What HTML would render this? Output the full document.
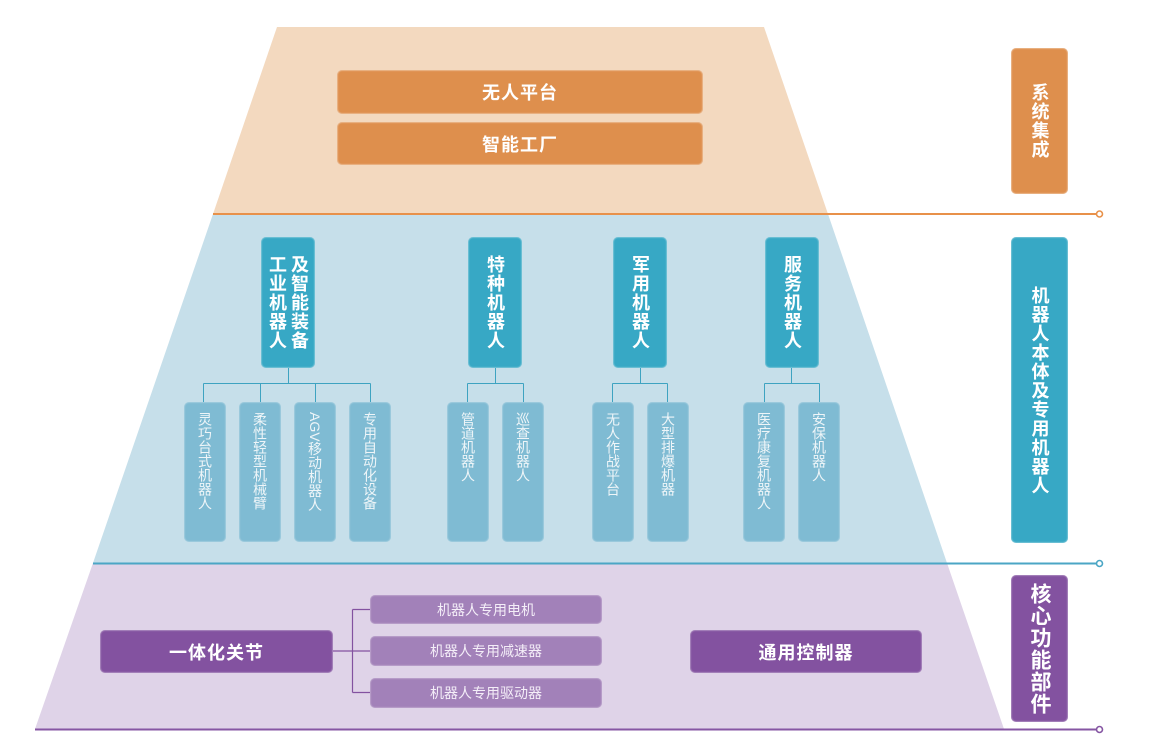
<!DOCTYPE html>
<html>
<head>
<meta charset="utf-8">
<style>
  html,body{margin:0;padding:0;background:#fff;}
  body{width:1156px;height:735px;position:relative;overflow:hidden;
    font-family:"Liberation Sans","Noto Sans CJK SC",sans-serif;}
  .b{position:absolute;border-radius:5px;box-sizing:border-box;}
  .or{background:#de8f4d;box-shadow:0 0 1px 1px rgba(255,255,255,0.35) inset;}
  .bl{background:#37a8c5;box-shadow:0 0 1px 1px rgba(255,255,255,0.3) inset;}
  .sb{background:#7fbbd3;box-shadow:0 0 1px 1px rgba(255,255,255,0.25) inset;}
  .pu{background:#8352a0;box-shadow:0 0 1px 1px rgba(255,255,255,0.3) inset;}
  .ps{background:#a281b9;box-shadow:0 0 1px 1px rgba(255,255,255,0.25) inset;}
  .h{display:flex;align-items:center;justify-content:center;color:#fff;}
  .hb{font-size:18px;font-weight:bold;letter-spacing:1px;}
  .hs{font-size:14px;color:#f4eef8;}
  .v{display:flex;align-items:center;justify-content:center;}
  .v span{writing-mode:vertical-rl;line-height:1;color:#fff;font-weight:bold;font-size:18px;letter-spacing:1px;}
  .s{display:flex;justify-content:center;}
  .s span{writing-mode:vertical-rl;line-height:1;color:#eef5f8;font-size:14px;margin-top:10px;}
</style>
</head>
<body>
<svg width="1156" height="735" style="position:absolute;left:0;top:0">
  <polygon points="277,27 764,27 828,214 213,214" fill="#f3d9bf"/>
  <polygon points="213,214 828,214 947,563 93,563" fill="#c6dfea"/>
  <polygon points="93,563 947,563 1004,729 35,729" fill="#dfd3e8"/>
  <line x1="213" y1="214" x2="1096" y2="214" stroke="#e8914a" stroke-width="2"/>
  <circle cx="1099.5" cy="214" r="3" fill="#fff" stroke="#e8914a" stroke-width="1.6"/>
  <line x1="93" y1="563.5" x2="1096" y2="563.5" stroke="#4ba6c5" stroke-width="2"/>
  <circle cx="1099.5" cy="563.5" r="3" fill="#fff" stroke="#4ba6c5" stroke-width="1.6"/>
  <line x1="35" y1="729.5" x2="1096" y2="729.5" stroke="#8656a3" stroke-width="2"/>
  <circle cx="1099.5" cy="729.5" r="3" fill="#fff" stroke="#8656a3" stroke-width="1.6"/>

  <g stroke="#3ea3c1" stroke-width="1" fill="none">
    <path d="M288.5 368 V383.5 M203.5 383.5 H370.5 M203.5 383.5 V402 M260.5 383.5 V402 M315.5 383.5 V402 M370.5 383.5 V402"/>
    <path d="M495.5 368 V383.5 M467.5 383.5 H523.5 M467.5 383.5 V402 M523.5 383.5 V402"/>
    <path d="M640.5 368 V383.5 M612.5 383.5 H667.5 M612.5 383.5 V402 M667.5 383.5 V402"/>
    <path d="M791.5 368 V383.5 M764.5 383.5 H819.5 M764.5 383.5 V402 M819.5 383.5 V402"/>
  </g>
  <g stroke="#8352a0" stroke-width="1.2" fill="none">
    <path d="M333 651 H352.5 M352.5 609.5 V692.5 M352.5 609.5 H370 M352.5 651 H370 M352.5 692.5 H370"/>
  </g>
</svg>

<!-- top -->
<div class="b or h hb" style="left:337px;top:70px;width:366px;height:44px;">无人平台</div>
<div class="b or h hb" style="left:337px;top:122px;width:366px;height:43px;">智能工厂</div>

<!-- right labels -->
<div class="b or v" style="left:1011px;top:48px;width:57px;height:146px;"><span>系统集成</span></div>
<div class="b bl v" style="left:1011px;top:237px;width:57px;height:306px;"><span>机器人本体及专用机器人</span></div>
<div class="b pu v" style="left:1011px;top:575px;width:57px;height:147px;"><span style="font-size:21px;">核心功能部件</span></div>

<!-- middle main boxes -->
<div class="b bl" style="left:261px;top:237px;width:54px;height:131px;">
  <span style="position:absolute;left:7px;top:18px;writing-mode:vertical-rl;line-height:1;color:#fff;font-weight:bold;font-size:18px;letter-spacing:1px;">工业机器人</span>
  <span style="position:absolute;left:29px;top:18px;writing-mode:vertical-rl;line-height:1;color:#fff;font-weight:bold;font-size:18px;letter-spacing:1px;">及智能装备</span>
</div>
<div class="b bl v" style="left:468px;top:237px;width:54px;height:131px;"><span>特种机器人</span></div>
<div class="b bl v" style="left:613px;top:237px;width:54px;height:131px;"><span>军用机器人</span></div>
<div class="b bl v" style="left:765px;top:237px;width:54px;height:131px;"><span>服务机器人</span></div>

<!-- sub boxes -->
<div class="b sb s" style="left:184px;top:402px;width:42px;height:140px;"><span>灵巧台式机器人</span></div>
<div class="b sb s" style="left:239px;top:402px;width:42px;height:140px;"><span>柔性轻型机械臂</span></div>
<div class="b sb s" style="left:294px;top:402px;width:42px;height:140px;"><span>AGV移动机器人</span></div>
<div class="b sb s" style="left:349px;top:402px;width:42px;height:140px;"><span>专用自动化设备</span></div>

<div class="b sb s" style="left:447px;top:402px;width:42px;height:140px;"><span>管道机器人</span></div>
<div class="b sb s" style="left:502px;top:402px;width:42px;height:140px;"><span>巡查机器人</span></div>

<div class="b sb s" style="left:592px;top:402px;width:42px;height:140px;"><span>无人作战平台</span></div>
<div class="b sb s" style="left:647px;top:402px;width:42px;height:140px;"><span>大型排爆机器</span></div>

<div class="b sb s" style="left:743px;top:402px;width:42px;height:140px;"><span>医疗康复机器人</span></div>
<div class="b sb s" style="left:798px;top:402px;width:42px;height:140px;"><span>安保机器人</span></div>

<!-- bottom -->
<div class="b pu h hb" style="left:100px;top:630px;width:233px;height:43px;">一体化关节</div>
<div class="b ps h hs" style="left:370px;top:595px;width:232px;height:29px;">机器人专用电机</div>
<div class="b ps h hs" style="left:370px;top:636px;width:232px;height:30px;">机器人专用减速器</div>
<div class="b ps h hs" style="left:370px;top:678px;width:232px;height:30px;">机器人专用驱动器</div>
<div class="b pu h hb" style="left:690px;top:630px;width:232px;height:43px;">通用控制器</div>
</body>
</html>
